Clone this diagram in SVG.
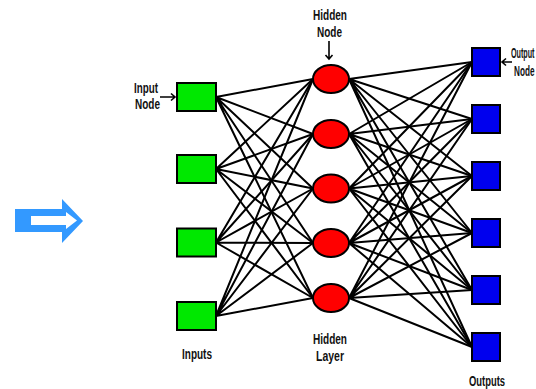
<svg xmlns="http://www.w3.org/2000/svg" width="536" height="389" viewBox="0 0 536 389">
<style>
.in{fill:#00e800;stroke:#000;stroke-width:2}
.hid{fill:#f00;stroke:#000;stroke-width:2}
.out{fill:#0000ee;stroke:#000;stroke-width:2}
.ln{stroke:#000;stroke-width:2;fill:none}
.ar{stroke:#000;stroke-width:1.6;fill:none}
text{font-family:"Liberation Sans Narrow","Liberation Sans",Arial,sans-serif;font-size:14px;font-weight:bold;fill:#111}
</style>
<rect width="536" height="389" fill="#fff"/>
<g id="big-arrow">
<polygon points="15,209 62,209 62,199 83,221 62,243 62,232 15,232" fill="#3399ff"/>
<polygon points="31,216 66,216 66,212 77,220.5 66,229 66,225 31,225" fill="#fff"/>
</g>
<g id="connectors" class="ln">
<path d="M216,97L313,79M216,97L313,134M216,97L313,188.5M216,97L313,243M216,97L313,298"/>
<path d="M216,169L313,79M216,169L313,134M216,169L313,188.5M216,169L313,243M216,169L313,298"/>
<path d="M216,242.5L313,79M216,242.5L313,134M216,242.5L313,188.5M216,242.5L313,243M216,242.5L313,298"/>
<path d="M216,316L313,79M216,316L313,134M216,316L313,188.5M216,316L313,243M216,316L313,298"/>
<path d="M349,79L472,62M349,79L472,119M349,79L472,176M349,79L472,233M349,79L472,290M349,79L472,347"/>
<path d="M349,134L472,62M349,134L472,119M349,134L472,176M349,134L472,233M349,134L472,290M349,134L472,347"/>
<path d="M349,188.5L472,62M349,188.5L472,119M349,188.5L472,176M349,188.5L472,233M349,188.5L472,290M349,188.5L472,347"/>
<path d="M349,243L472,62M349,243L472,119M349,243L472,176M349,243L472,233M349,243L472,290M349,243L472,347"/>
<path d="M349,298L472,62M349,298L472,119M349,298L472,176M349,298L472,233M349,298L472,290M349,298L472,347"/>
</g>
<g id="input1"><rect class="in" x="177" y="83" width="39" height="28"/></g>
<g id="input2"><rect class="in" x="177" y="155" width="39" height="28"/></g>
<g id="input3"><rect class="in" x="177" y="228.5" width="39" height="28"/></g>
<g id="input4"><rect class="in" x="177" y="302" width="39" height="28"/></g>
<g id="hidden1"><ellipse class="hid" cx="331" cy="79" rx="18" ry="14"/></g>
<g id="hidden2"><ellipse class="hid" cx="331" cy="134" rx="18" ry="14"/></g>
<g id="hidden3"><ellipse class="hid" cx="331" cy="188.5" rx="18" ry="14"/></g>
<g id="hidden4"><ellipse class="hid" cx="331" cy="243" rx="18" ry="14"/></g>
<g id="hidden5"><ellipse class="hid" cx="331" cy="298" rx="18" ry="14"/></g>
<g id="output1"><rect class="out" x="472" y="48" width="28" height="28"/></g>
<g id="output2"><rect class="out" x="472" y="105" width="28" height="28"/></g>
<g id="output3"><rect class="out" x="472" y="162" width="28" height="28"/></g>
<g id="output4"><rect class="out" x="472" y="219" width="28" height="28"/></g>
<g id="output5"><rect class="out" x="472" y="276" width="28" height="28"/></g>
<g id="output6"><rect class="out" x="472" y="333" width="28" height="28"/></g>
<g id="labels">
<text x="134" y="93" textLength="24" lengthAdjust="spacingAndGlyphs">Input</text>
<text x="135" y="109" textLength="25" lengthAdjust="spacingAndGlyphs">Node</text>
<path class="ar" d="M160,97H175M171,93.5L175,97L171,100.5"/>
<text x="313" y="20" textLength="34" lengthAdjust="spacingAndGlyphs">Hidden</text>
<text x="317" y="37" textLength="25" lengthAdjust="spacingAndGlyphs">Node</text>
<path class="ar" d="M329,41V59M325.5,55L329,59L332.5,55"/>
<text x="511" y="58" textLength="23.5" lengthAdjust="spacingAndGlyphs">Output</text>
<text x="514" y="76" textLength="20.5" lengthAdjust="spacingAndGlyphs">Node</text>
<path class="ar" d="M512,62H502M506,58.5L502,62L506,65.5"/>
<text x="182" y="359" textLength="30" lengthAdjust="spacingAndGlyphs">Inputs</text>
<text x="313" y="344" textLength="34" lengthAdjust="spacingAndGlyphs">Hidden</text>
<text x="316" y="361" textLength="28" lengthAdjust="spacingAndGlyphs">Layer</text>
<text x="469" y="386" textLength="36" lengthAdjust="spacingAndGlyphs">Outputs</text>
</g>
</svg>
